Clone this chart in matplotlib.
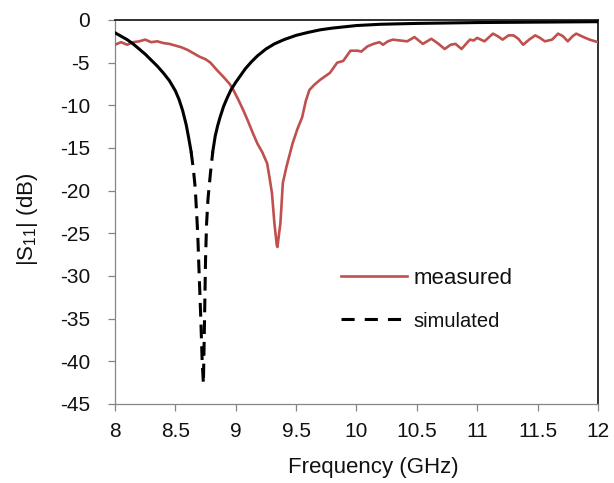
import matplotlib.pyplot as plt
import numpy as np
from matplotlib.lines import Line2D

plt.rcParams["font.family"] = ["Liberation Sans", "DejaVu Sans"]
plt.rcParams["axes.unicode_minus"] = False

# simulated |S11| (dB)
sim_freq = [8.00, 8.05, 8.10, 8.15, 8.20, 8.25, 8.30, 8.35, 8.40, 8.45, 8.50, 8.53,
            8.56, 8.59, 8.61, 8.63, 8.65, 8.665, 8.685, 8.695, 8.71, 8.722, 8.732,
            8.738, 8.744, 8.75, 8.758, 8.77, 8.79, 8.81, 8.83, 8.85, 8.87, 8.90,
            8.93, 8.96, 9.00, 9.04, 9.08, 9.13, 9.18, 9.25, 9.32, 9.40, 9.50, 9.60,
            9.70, 9.80, 9.90, 10.0, 10.2, 10.5, 11.0, 11.5, 12.0]
sim_db = [-1.5, -1.9, -2.3, -2.8, -3.4, -4.0, -4.7, -5.4, -6.2, -7.1, -8.3, -9.3,
          -10.6, -12.3, -13.8, -15.4, -17.6, -19.8, -25.0, -29.0, -34.8, -40.0, -42.6,
          -38.0, -33.0, -28.0, -24.0, -21.0, -18.0, -15.4, -13.6, -12.4, -11.4, -10.1,
          -9.1, -8.2, -7.3, -6.5, -5.7, -4.9, -4.2, -3.4, -2.8, -2.3, -1.8, -1.45,
          -1.15, -0.95, -0.8, -0.65, -0.5, -0.4, -0.3, -0.25, -0.2]

# measured |S11| (dB)
meas_freq = [8.00, 8.05, 8.10, 8.15, 8.20, 8.25, 8.30, 8.35, 8.40, 8.45, 8.50, 8.55,
             8.60, 8.65, 8.70, 8.75, 8.79, 8.84, 8.90, 8.95, 8.98, 9.02, 9.06, 9.10,
             9.14, 9.18, 9.22, 9.26, 9.28, 9.30, 9.32, 9.34, 9.345, 9.37, 9.39, 9.42,
             9.47, 9.51, 9.55, 9.58, 9.61, 9.65, 9.70, 9.75, 9.78, 9.81, 9.84, 9.89,
             9.92, 9.95, 10.01, 10.04, 10.09, 10.14, 10.19, 10.22, 10.26, 10.30, 10.36,
             10.42, 10.48, 10.55, 10.62, 10.68, 10.73, 10.78, 10.82, 10.87, 10.92, 10.94,
             10.97, 11.00, 11.06, 11.13, 11.17, 11.21, 11.26, 11.30, 11.34, 11.38, 11.43,
             11.48, 11.52, 11.56, 11.62, 11.67, 11.71, 11.75, 11.79, 11.82, 11.88, 11.93,
             12.00]
meas_db = [-2.9, -2.6, -2.9, -2.6, -2.5, -2.3, -2.6, -2.5, -2.7, -2.8, -3.0, -3.2,
           -3.5, -3.9, -4.3, -4.6, -5.0, -5.8, -6.7, -7.5, -8.2, -9.3, -10.5, -11.8,
           -13.2, -14.5, -15.5, -16.8, -18.5, -20.3, -23.8, -26.4, -26.6, -23.8, -19.1, -17.2,
           -14.5, -12.8, -11.4, -9.5, -8.2, -7.6, -7.0, -6.5, -6.2, -5.6, -5.0, -4.8,
           -4.2, -3.6, -3.6, -3.7, -3.1, -2.8, -2.6, -2.9, -2.5, -2.3, -2.4,
           -2.5, -2.0, -2.8, -2.2, -2.8, -3.4, -2.9, -2.8, -3.4, -2.6, -2.3,
           -2.4, -2.1, -2.5, -1.6, -1.9, -2.3, -1.8, -1.8, -2.2, -2.9, -2.3,
           -1.8, -2.1, -2.5, -2.3, -1.6, -1.9, -2.5, -1.9, -1.6, -2.0, -2.3,
           -2.6]

x_ticks = [8, 8.5, 9, 9.5, 10, 10.5, 11, 11.5, 12]
x_labels = ["8", "8.5", "9", "9.5", "10", "10.5", "11", "11.5", "12"]
y_ticks = [0, -5, -10, -15, -20, -25, -30, -35, -40, -45]

fig = plt.figure(figsize=(6.14, 4.83), dpi=100)
ax = fig.add_axes([0.1873, 0.1636, 0.7866, 0.795])

red = "#c0504d"
ax.plot(meas_freq, meas_db, color=red, lw=1.9, zorder=3)

# the dip of the simulated curve shows as dashes, the flat flanks look solid
sim_db_arr = np.array(sim_db)
solid_part = np.where(sim_db_arr >= -17, sim_db_arr, np.nan)
dashed_part = np.where(sim_db_arr <= -15, sim_db_arr, np.nan)
ax.plot(sim_freq, solid_part, color="black", lw=2.2, zorder=4)
ax.plot(sim_freq, dashed_part, color="black", lw=2.2, dashes=(4.5, 2.6), zorder=4)

ax.set_xlim(8, 12)
ax.set_ylim(-45, 0)
ax.set_xticks(x_ticks)
ax.set_xticklabels(x_labels)
ax.set_yticks(y_ticks)

grey = "#868686"
for side in ["left", "bottom"]:
    ax.spines[side].set_color(grey)
    ax.spines[side].set_linewidth(0.9)
for side in ["top", "right"]:
    ax.spines[side].set_color("#202020")
    ax.spines[side].set_linewidth(1.3)

ax.tick_params(axis="both", direction="out", length=5, width=0.9, color=grey,
               labelsize=15, labelcolor="#111111")
ax.tick_params(axis="x", pad=8)
ax.tick_params(axis="y", pad=13)

ax.set_xlabel("Frequency (GHz)", fontsize=16, color="#111111")
ax.xaxis.set_label_coords(0.534, -0.137)
ax.set_ylabel(r"|S$_{\mathregular{11}}$| (dB)", fontsize=16, color="#111111")
ax.yaxis.set_label_coords(-0.155, 0.48)

handles = [Line2D([], [], color=red, lw=1.9),
           Line2D([], [], color="black", lw=2.2, dashes=(4.3, 3.3))]
leg = ax.legend(handles, ["measured", "simulated"], loc="center left",
                bbox_to_anchor=(0.468, 0.272), frameon=False, fontsize=16,
                handlelength=2.95, handletextpad=0.3, labelspacing=1.0,
                borderpad=0, borderaxespad=0)
leg.get_texts()[1].set_fontsize(14.5)
for t in leg.get_texts():
    t.set_color("#111111")

fig.savefig("out.png", dpi=100)
